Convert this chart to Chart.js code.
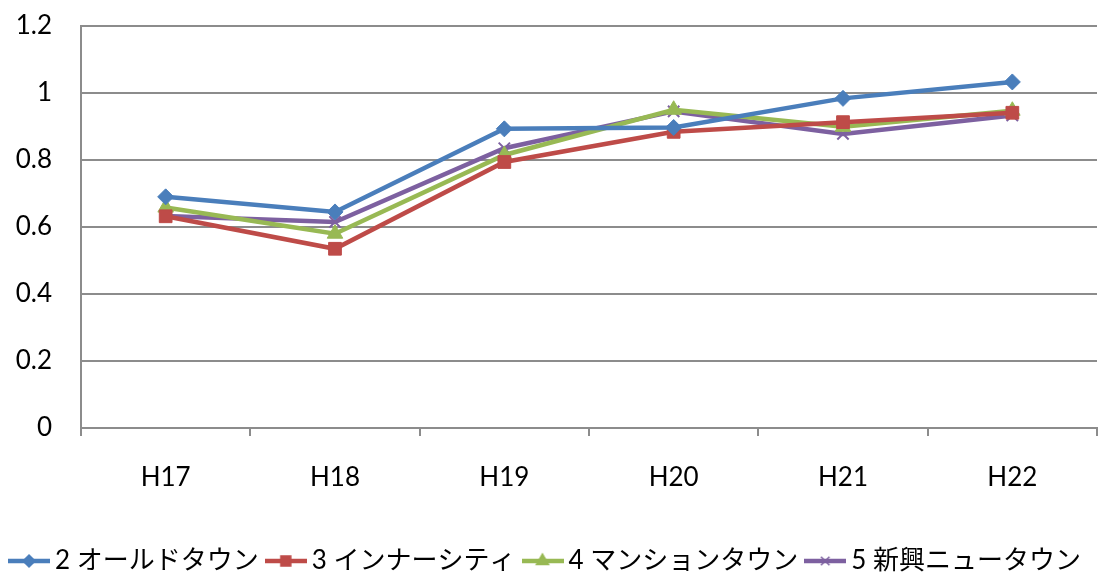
<!DOCTYPE html>
<html>
<head>
<meta charset="utf-8">
<script src="https://cdn.jsdelivr.net/npm/chart.js@4/dist/chart.umd.min.js"></script>
<style>
  html, body { margin: 0; padding: 0; background: #fff; overflow: hidden; }
  #wrap { width: 1107px; height: 584px; }
</style>
</head>
<body>
<div id="wrap"><canvas id="myChart"></canvas></div>
<script>
// years on the x axis
var years = ["H17", "H18", "H19", "H20", "H21", "H22"];

// one list per town type
var oldTown   = [0.690, 0.645, 0.893, 0.897, 0.984, 1.033];
var innerCity = [0.632, 0.535, 0.794, 0.884, 0.913, 0.941];
var mansion   = [0.658, 0.580, 0.815, 0.950, 0.899, 0.947];
var newTown   = [0.633, 0.615, 0.835, 0.945, 0.878, 0.933];

var names   = ["2 オールドタウン", "3 インナーシティ", "4 マンションタウン", "5 新興ニュータウン"];
var colors  = ["#4A7EBB", "#BE4B48", "#98B954", "#7D60A0"];
var markers = ["rectRot", "rect", "triangle", "crossRot"];
var radii   = [8, 9, 9, 8];

var tickFont = { family: "Lato, 'Liberation Sans', sans-serif", size: 26 };
var gridGrey = "#8c8c8c";

// little line+marker swatch for the legend
function swatch(i) {
  var c = document.createElement("canvas");
  c.width = 42; c.height = 18;
  var g = c.getContext("2d");
  g.strokeStyle = colors[i];
  g.lineWidth = 4.5;
  g.beginPath(); g.moveTo(0, 9); g.lineTo(42, 9); g.stroke();
  g.fillStyle = colors[i];
  g.lineWidth = 1.5;
  Chart.helpers.drawPoint(g, { pointStyle: markers[i], radius: radii[i] - 2, borderWidth: 1.5, rotation: 0 }, 21, 9);
  return c;
}

var series = [oldTown, innerCity, mansion, newTown];
var ds = [];
for (var i = 0; i < series.length; i++) {
  ds.push({
    label: names[i],
    data: series[i],
    borderColor: colors[i],
    backgroundColor: colors[i],
    borderWidth: 4.5,
    tension: 0,
    pointStyle: markers[i],
    pointRadius: radii[i],
    pointHoverRadius: radii[i],
    pointBorderWidth: i == 3 ? 2 : 1,
    pointBorderColor: colors[i],
    pointBackgroundColor: colors[i]
  });
}

var ctx = document.getElementById("myChart").getContext("2d");
var myChart = new Chart(ctx, {
  type: "line",
  data: { labels: years, datasets: ds },
  options: {
    responsive: true,
    maintainAspectRatio: false,
    animation: false,
    layout: { padding: { left: 0, right: 10, top: 26, bottom: 0 } },
    plugins: {
      tooltip: { enabled: false },
      legend: {
        position: "bottom",
        labels: {
          usePointStyle: true,
          pointStyleWidth: 26,
          padding: 14,
          color: "#000",
          font: { family: "Lato, 'Noto Sans CJK JP', sans-serif", size: 26 },
          generateLabels: function (chart) {
            var items = Chart.defaults.plugins.legend.labels.generateLabels(chart);
            items.forEach(function (it, k) { it.pointStyle = swatch(k); });
            return items;
          }
        }
      }
    },
    scales: {
      x: {
        offset: true,
        grid: { offset: true, drawOnChartArea: false, drawTicks: true, tickLength: 8, color: gridGrey, lineWidth: 2 },
        border: { color: gridGrey, width: 2 },
        ticks: { color: "#000", font: tickFont, padding: 26, maxRotation: 0 },
        afterFit: function (s) { s.height = 106; }
      },
      y: {
        min: 0,
        max: 1.2,
        ticks: {
          stepSize: 0.2, color: "#000", font: tickFont, padding: 29,
          callback: function (v) { return String(Math.round(v * 10) / 10); }
        },
        grid: { color: gridGrey, lineWidth: 2, drawTicks: false },
        border: { color: gridGrey, width: 2 },
        afterFit: function (s) { s.width = 81; s.paddingTop = 0; s.paddingBottom = 0; }
      }
    }
  }
});
</script>
</body>
</html>
